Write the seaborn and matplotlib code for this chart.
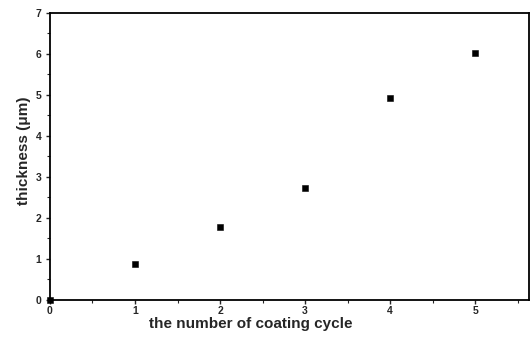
import matplotlib
matplotlib.use("Agg")
import matplotlib.pyplot as plt
import seaborn as sns
import pandas as pd
from matplotlib.ticker import MultipleLocator

cycles = [0, 1, 2, 3, 4, 5]
thickness = [0.0, 0.88, 1.78, 2.73, 4.93, 6.02]
xticks = [0, 1, 2, 3, 4, 5]
yticks = [0, 1, 2, 3, 4, 5, 6, 7]

sns.set_theme(style="ticks")
plt.rcParams['font.family'] = ['Liberation Sans', 'DejaVu Sans']
plt.rcParams['font.weight'] = 'bold'

df = pd.DataFrame({"cycle": cycles, "thickness": thickness})

fig = plt.figure(figsize=(5.31, 3.48), dpi=100)
ax = fig.add_axes([0.094, 0.138, 0.902, 0.825])
sns.scatterplot(data=df, x="cycle", y="thickness", marker="s", s=22,
                color="black", edgecolor="black", ax=ax, clip_on=False, zorder=5)
ax.set_xlim(0, 5.63)
ax.set_ylim(0, 7)
ax.set_xticks(xticks)
ax.set_yticks(yticks)
ax.xaxis.set_minor_locator(MultipleLocator(0.5))
ax.yaxis.set_minor_locator(MultipleLocator(0.5))
ax.tick_params(which="major", direction="out", length=3, width=1, labelsize=7.5, pad=3)
ax.tick_params(axis="x", which="major", pad=1.5)
ax.tick_params(which="minor", direction="out", length=2, width=0.8)
for t in ax.get_xticklabels() + ax.get_yticklabels():
    t.set_fontweight("bold")
for sp in ax.spines.values():
    sp.set_visible(True)
    sp.set_linewidth(1.3)
    sp.set_color("black")
ax.set_xlabel("the number of coating cycle", fontsize=11, fontweight="bold")
ax.xaxis.set_label_coords(0.42, -0.06)
ax.set_ylabel("thickness (\u03bcm)", fontsize=11, fontweight="bold")
ax.yaxis.set_label_coords(-0.04, 0.52)
fig.savefig("out.png", dpi=100)
